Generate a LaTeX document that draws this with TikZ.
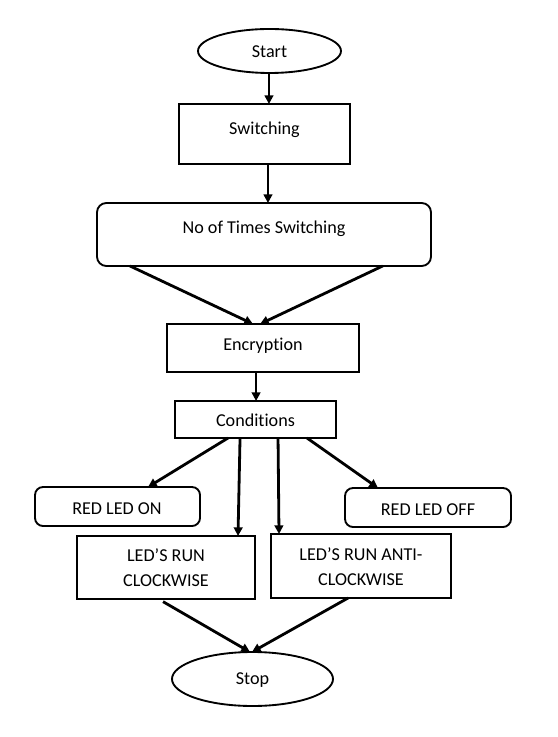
\documentclass[tikz,border=0pt]{standalone}
\usepackage{fontspec}
\setmainfont[Ligatures=NoCommon]{Carlito}
\usetikzlibrary{shapes.geometric,arrows.meta}
\begin{document}
\begin{tikzpicture}[x=0.75pt,y=-0.75pt,
  font=\fontsize{13.6}{18.75}\selectfont,
  bx/.style 2 args={draw=black, line width=1.4pt, inner sep=0pt, outer sep=0pt,
     minimum width=#1*0.75pt, minimum height=#2*0.75pt},
  rbx/.style 2 args={bx={#1}{#2}, rounded corners=7pt},
  ell/.style 2 args={bx={#1}{#2}, ellipse},
  txt/.style={inner sep=0pt, align=center, yshift=-1.2pt},
  arr/.style={line width=2.1pt, -{Triangle[length=6.5pt,width=6.5pt]}}]
\useasboundingbox (0,0) rectangle (557,737);
\fill[white] (0,0) rectangle (557,737);
% shapes
\node[ell={143}{44}] (start) at (269.5,51) {};
\node[bx={171}{60}] (sw) at (264.5,134) {};
\node[rbx={334}{63}] (nts) at (264,234.5) {};
\node[bx={192}{48}] (enc) at (263,348) {};
\node[bx={161}{37}] (cond) at (255.5,419.5) {};
\node[rbx={165}{39}, rounded corners=6pt] (redon) at (117.5,506.5) {};
\node[rbx={166}{39}, rounded corners=6pt] (redoff) at (428,507.5) {};
\node[bx={178}{63}] (cw) at (166,567.5) {};
\node[bx={180}{64}] (acw) at (361,566) {};
\node[ell={161}{54}] (stop) at (252.5,679) {};
% texts
\node[txt] (startt) at (269.5,50) {Start};
\node[txt] (swt) at (264.5,128) {Switching};
\node[txt] (ntst) at (264,227) {No of Times Switching};
\node[txt] (enct) at (263,344) {Encryption};
\node[txt] (condt) at (255.5,419) {Conditions};
\node[txt] (redont) at (117,507) {RED LED ON};
\node[txt] (redofft) at (428,508) {RED LED OFF};
\node[txt] (cwt) at (166,566.5) {LED’S RUN\\CLOCKWISE};
\node[txt] (acwt) at (361,565) {LED’S RUN ANTI-\\CLOCKWISE};
\node[txt] (stopt) at (252.5,678) {Stop};
% connectors
\draw[arr] ([xshift=-0.4pt]start.south) -- ([xshift=-0.4pt]start.south |- sw.north);
\draw[arr] ([xshift=2.6pt]sw.south) -- ([xshift=2.6pt]sw.south |- nts.north);
\draw[arr] ([xshift=-100.5pt]nts.south) -- ([xshift=-7.5pt]enc.north);
\draw[arr] ([xshift=89pt]nts.south) -- ([xshift=-2.2pt]enc.north);
\draw[arr] ([xshift=-5.2pt]enc.south) -- ([xshift=-5.2pt]enc.south |- cond.north);
\draw[arr] ([xshift=-20.6pt]cond.south) -- ([xshift=22.9pt]redon.north);
\draw[arr] ([xshift=-11.6pt]cond.south) -- ([xshift=54pt]cw.north);
\draw[arr] ([xshift=16.9pt]cond.south) -- ([xshift=-61.5pt]acw.north);
\draw[arr] ([xshift=38.6pt]cond.south) -- ([xshift=-37.5pt]redoff.north);
\draw[arr] ([xshift=-2.2pt,yshift=-2pt]cw.south) -- ([xshift=-1.9pt]stop.north);
\draw[arr] ([xshift=-9.7pt]acw.south) -- ([xshift=-0.4pt]stop.north);
\end{tikzpicture}
\end{document}
